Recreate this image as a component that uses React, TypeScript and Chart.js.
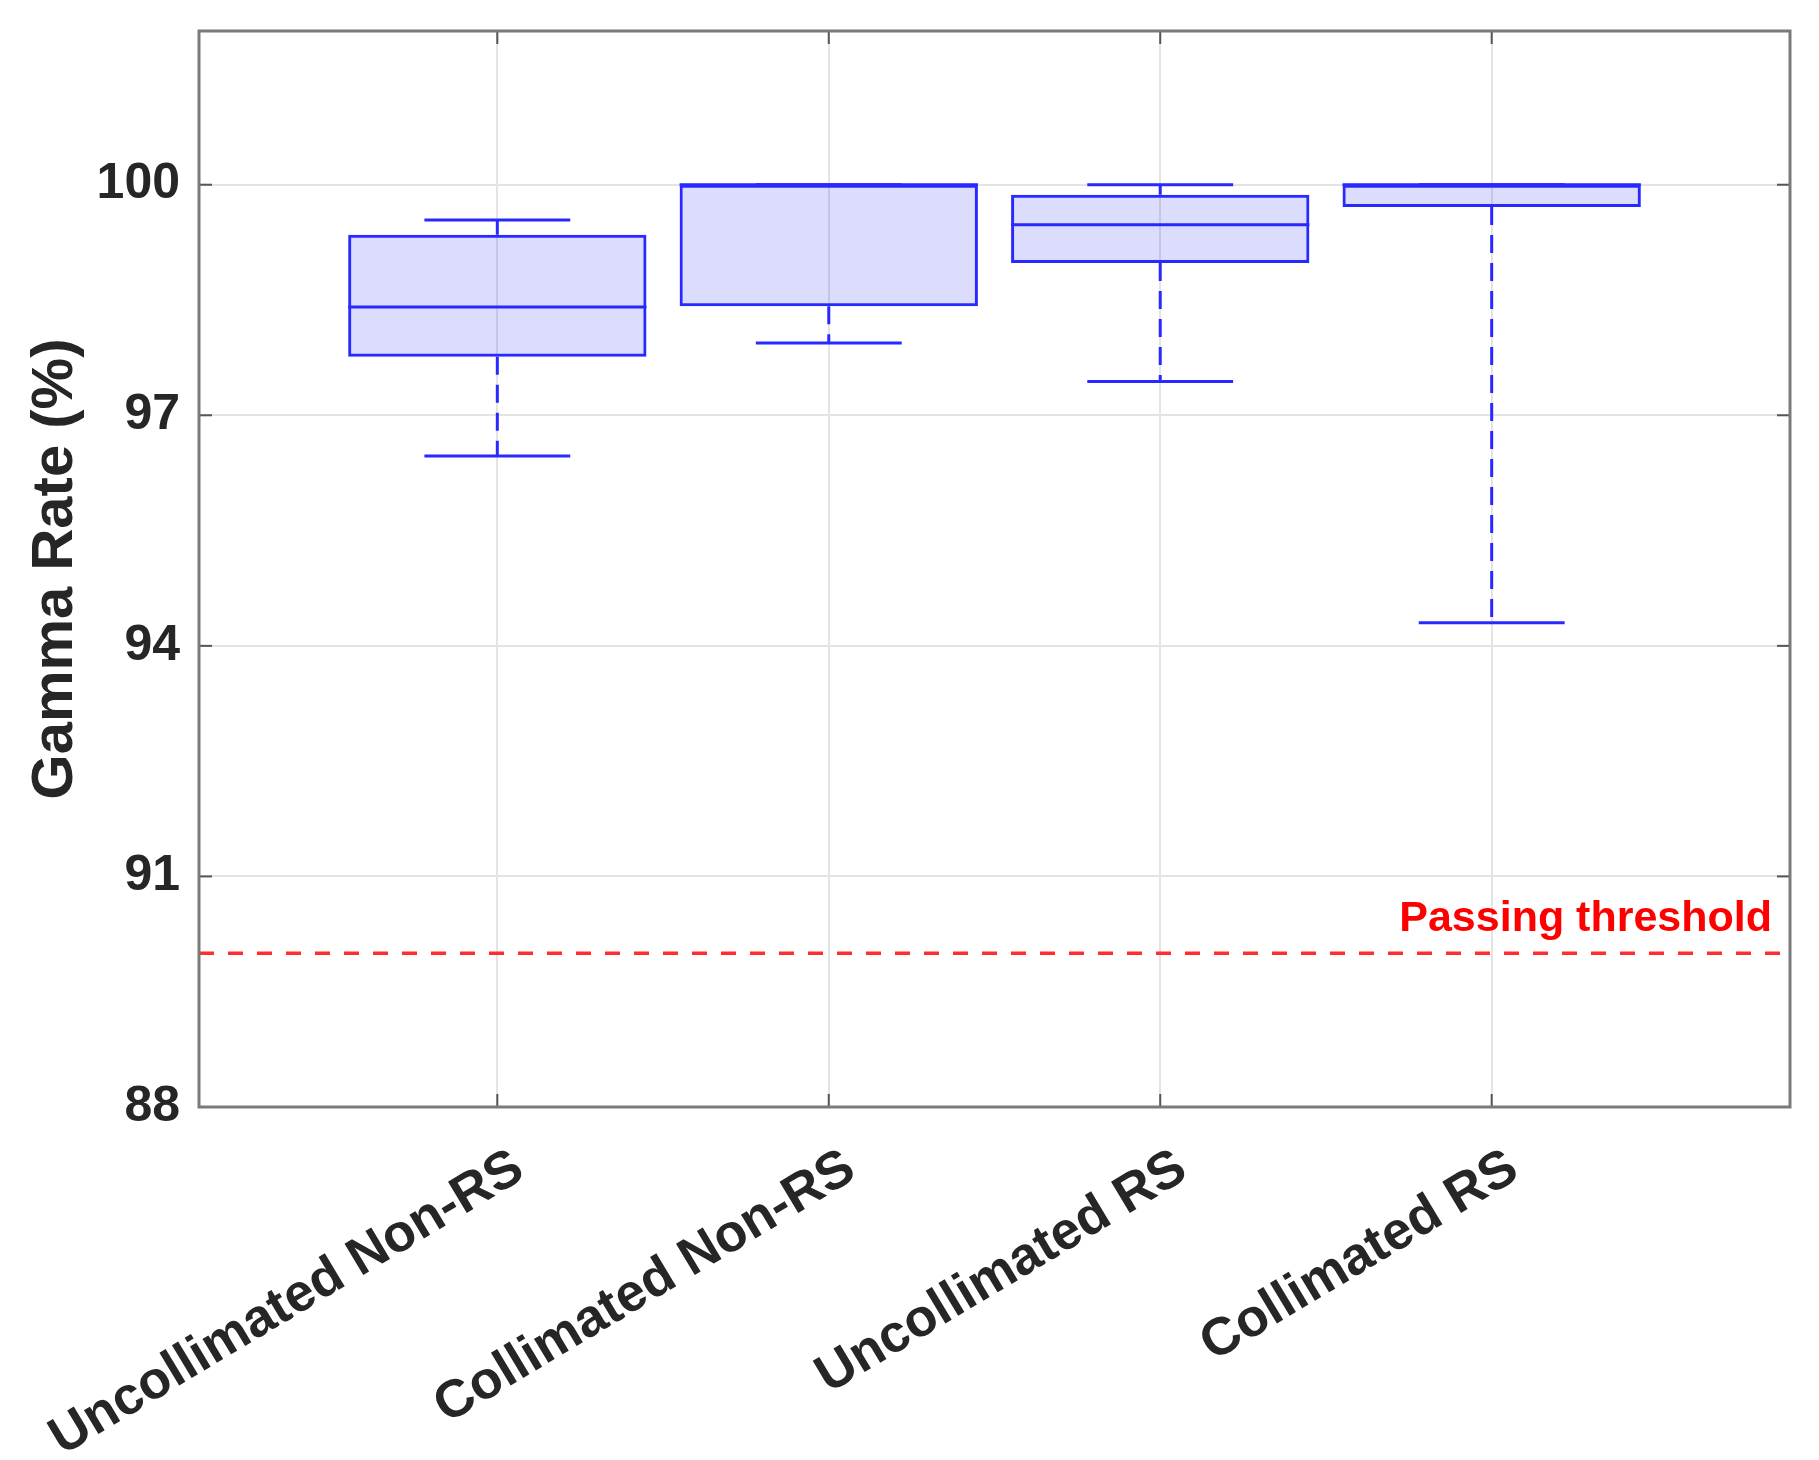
import React, { useEffect, useRef } from "react";
import { Chart, registerables } from "chart.js";

Chart.register(...registerables);

// Gamma pass-rate distributions per delivery configuration
const CATEGORIES = [
  "Uncollimated Non-RS",
  "Collimated Non-RS",
  "Uncollimated RS",
  "Collimated RS",
];
const WHISKER_LOW = [96.47, 97.94, 97.44, 94.3];
const Q1 = [97.76, 98.42, 98.98, 99.71];
const MEDIAN = [98.41, 100.0, 99.48, 100.0];
const Q3 = [99.35, 100.0, 99.87, 100.0];
const WHISKER_HIGH = [99.54, 100.0, 100.0, 100.0];

const Y_TICKS = [88, 91, 94, 97, 100];
const Y_MIN = 88;
const Y_MAX = 102;
const X_MIN = 0.1;
const X_MAX = 4.9;

const THRESHOLD = 90;
const THRESHOLD_LABEL = "Passing threshold";
const Y_TITLE = "Gamma Rate (%)";

const FONT = '"Liberation Sans", Arial, Helvetica, sans-serif';
const BLUE = "rgb(40,40,255)";
const TEXT = "#262626";

const BOX_HALF = 0.45;
const CAP_HALF = 0.22;

type P = { x: number; y: number | null };

function segments(build: (i: number) => P[]): P[] {
  const out: P[] = [];
  CATEGORIES.forEach((_, i) => {
    out.push(...build(i));
    out.push({ x: i + 1, y: null });
  });
  return out;
}

const framePlugin = {
  id: "matlabFrame",
  afterDatasetsDraw(chart: any) {
    const { ctx, chartArea: a, scales } = chart;
    const x = scales.x;
    const y = scales.y;
    ctx.save();
    ctx.strokeStyle = "#555555";
    ctx.lineWidth = 2;
    const seg = (x1: number, y1: number, x2: number, y2: number) => {
      ctx.beginPath();
      ctx.moveTo(x1, y1);
      ctx.lineTo(x2, y2);
      ctx.stroke();
    };
    const tl = 13;
    y.ticks.forEach((t: any) => {
      const py = y.getPixelForValue(t.value);
      seg(a.left, py, a.left + tl, py);
      seg(a.right - tl, py, a.right, py);
    });
    x.ticks.forEach((t: any) => {
      const px = x.getPixelForValue(t.value);
      seg(px, a.bottom, px, a.bottom - tl);
      seg(px, a.top, px, a.top + tl);
    });
    ctx.strokeStyle = "#7a7a7a";
    ctx.lineWidth = 3;
    ctx.strokeRect(a.left, a.top, a.right - a.left, a.bottom - a.top);

    ctx.fillStyle = "#ff0000";
    ctx.font = `bold 43px ${FONT}`;
    ctx.textAlign = "right";
    ctx.textBaseline = "alphabetic";
    ctx.fillText(THRESHOLD_LABEL, a.right - 18, y.getPixelForValue(THRESHOLD) - 22);
    ctx.restore();
  },
};

export default function App() {
  const canvasRef = useRef<HTMLCanvasElement | null>(null);

  useEffect(() => {
    if (!canvasRef.current) return;

    const lineBase = {
      type: "line" as const,
      pointRadius: 0,
      pointHoverRadius: 0,
      tension: 0,
      fill: false,
      spanGaps: false,
      borderCapStyle: "butt" as const,
    };

    const chart = new Chart(canvasRef.current, {
      type: "bar",
      data: {
        datasets: [
          {
            ...lineBase,
            label: "threshold",
            data: [
              { x: X_MIN, y: THRESHOLD },
              { x: X_MAX, y: THRESHOLD },
            ],
            borderColor: "rgb(255,45,45)",
            borderWidth: 3.5,
            borderDash: [15, 14],
          },
          {
            ...lineBase,
            label: "median",
            data: segments((i) => [
              { x: i + 1 - BOX_HALF, y: MEDIAN[i] },
              { x: i + 1 + BOX_HALF, y: MEDIAN[i] },
            ]),
            borderColor: BLUE,
            borderWidth: 3,
          },
          {
            ...lineBase,
            label: "caps",
            data: [
              ...segments((i) => [
                { x: i + 1 - CAP_HALF, y: WHISKER_HIGH[i] },
                { x: i + 1 + CAP_HALF, y: WHISKER_HIGH[i] },
              ]),
              ...segments((i) => [
                { x: i + 1 - CAP_HALF, y: WHISKER_LOW[i] },
                { x: i + 1 + CAP_HALF, y: WHISKER_LOW[i] },
              ]),
            ],
            borderColor: BLUE,
            borderWidth: 3,
          },
          {
            ...lineBase,
            label: "whiskers",
            data: [
              ...segments((i) => [
                { x: i + 1, y: Q3[i] },
                { x: i + 1, y: WHISKER_HIGH[i] },
              ]),
              ...segments((i) => [
                { x: i + 1, y: Q1[i] },
                { x: i + 1, y: WHISKER_LOW[i] },
              ]),
            ],
            borderColor: BLUE,
            borderWidth: 3,
            borderDash: [18, 10],
          },
          {
            type: "bar" as const,
            label: "box",
            data: CATEGORIES.map((_, i) => ({ x: i + 1, y: [Q1[i], Q3[i]] })) as any,
            backgroundColor: "rgba(20,20,235,0.15)",
            borderColor: BLUE,
            borderWidth: 3,
            borderSkipped: false,
            barPercentage: BOX_HALF * 2,
            categoryPercentage: 1,
            grouped: false,
          },
        ],
      },
      options: {
        animation: false,
        responsive: true,
        maintainAspectRatio: false,
        layout: { padding: { top: 23, right: 21, left: 0, bottom: 0 } },
        plugins: {
          legend: { display: false },
          tooltip: { enabled: false },
        },
        scales: {
          x: {
            type: "linear",
            min: X_MIN,
            max: X_MAX,
            offset: false,
            grid: { color: "#e4e4e4", lineWidth: 2, drawTicks: false, offset: false },
            border: { display: false },
            afterBuildTicks: (s: any) => {
              s.ticks = CATEGORIES.map((_, i) => ({ value: i + 1 }));
            },
            afterFit: (s: any) => {
              s.height = 345;
              s.paddingLeft = 0;
              s.paddingRight = 0;
            },
            ticks: {
              autoSkip: false,
              minRotation: 31,
              maxRotation: 31,
              padding: 30,
              labelOffset: 22,
              color: TEXT,
              font: { family: FONT, size: 53, weight: "bold" },
              callback: (v: any) => CATEGORIES[Math.round(Number(v)) - 1] ?? "",
            },
          },
          y: {
            type: "linear",
            min: Y_MIN,
            max: Y_MAX,
            grid: { color: "#e4e4e4", lineWidth: 2, drawTicks: false },
            border: { display: false },
            afterBuildTicks: (s: any) => {
              s.ticks = Y_TICKS.map((v) => ({ value: v }));
            },
            afterFit: (s: any) => {
              s.width = 191;
              s.paddingTop = 0;
              s.paddingBottom = 0;
            },
            ticks: {
              padding: 19,
              color: TEXT,
              font: { family: FONT, size: 50, weight: "bold" },
              callback: (v: any) => String(v),
            },
            title: {
              display: true,
              text: Y_TITLE,
              color: TEXT,
              padding: { top: 13, bottom: 0 },
              font: { family: FONT, size: 58, weight: "bold" },
            },
          },
        },
      },
      plugins: [framePlugin],
    });

    return () => chart.destroy();
  }, []);

  return (
    <div style={{ position: "relative", width: 1803, height: 1444, background: "#ffffff" }}>
      <canvas ref={canvasRef} />
    </div>
  );
}
